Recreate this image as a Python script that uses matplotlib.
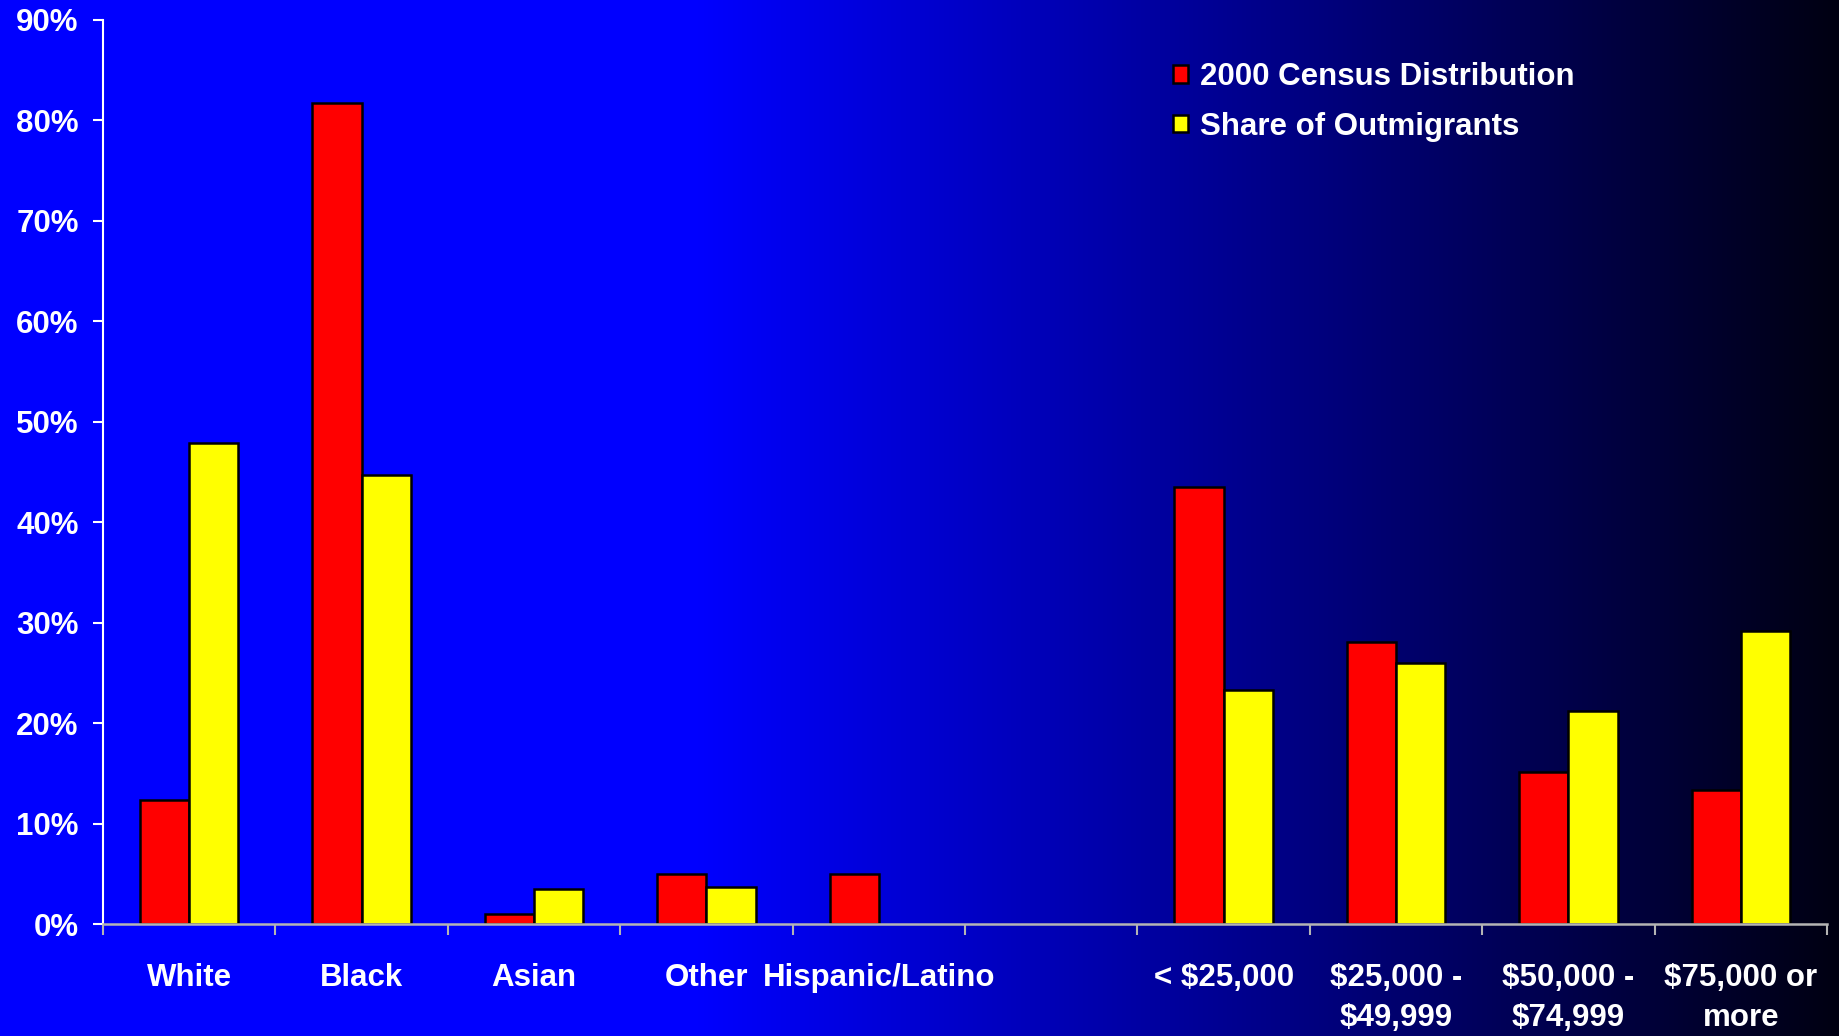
import matplotlib
matplotlib.use("Agg")
import matplotlib.pyplot as plt
from matplotlib.patches import Patch
import numpy as np

plt.rcParams['font.family'] = ['Liberation Sans', 'DejaVu Sans']
plt.rcParams['font.weight'] = 'bold'

categories = ["White", "Black", "Asian", "Other", "Hispanic/Latino", "",
              "< $25,000", "$25,000 -\n$49,999", "$50,000 -\n$74,999", "$75,000 or\nmore"]
census = [12.4, 81.7, 1.05, 5.0, 5.0, None, 43.5, 28.1, 15.1, 13.3]
outmigrants = [47.9, 44.7, 3.5, 3.7, None, None, 23.3, 26.0, 21.2, 29.2]
yticks = [0, 10, 20, 30, 40, 50, 60, 70, 80, 90]

fs = 22.5
fig = plt.figure(figsize=(18.39, 10.36), dpi=100)

# background gradient: bright blue on the left fading to black on the right
bg = fig.add_axes([0, 0, 1, 1], zorder=-10)
xs = np.linspace(0, 1, 800)
blue = np.clip(1.0 - (xs - 0.38) / 0.62 * 0.93, 0, 1)
img = np.zeros((2, len(xs), 3))
img[:, :, 2] = blue
bg.imshow(img, aspect='auto', extent=(0, 1, 0, 1))
bg.set_axis_off()

ax = fig.add_axes([0.056, 0.108, 0.9375, 0.873])
ax.patch.set_alpha(0)

w = 0.285
idx = np.arange(len(categories))
for i in idx:
    if census[i] is not None:
        ax.bar(i - w / 2, census[i], w, color='#ff0000', edgecolor='black', linewidth=1.8, zorder=3)
    if outmigrants[i] is not None:
        ax.bar(i + w / 2, outmigrants[i], w, color='#ffff00', edgecolor='black', linewidth=1.8, zorder=3)

ax.set_xlim(-0.5, len(categories) - 0.5)
ax.set_ylim(0, 90)

ax.set_yticks(yticks)
ax.set_yticklabels([f"{v}%" for v in yticks])
ax.tick_params(axis='y', colors='white', labelsize=fs, length=7.5, width=1.5, pad=10, direction='out')

ax.set_xticks(idx)
ax.set_xticklabels(categories, fontsize=fs, color='white', linespacing=1.45, va='top')
ax.tick_params(axis='x', which='major', length=0, pad=28)
ax.set_xticks(np.arange(-0.5, len(categories)), minor=True)
ax.tick_params(axis='x', which='minor', length=8, width=1.5, color='#b4b4b4', direction='out')

for s in ['top', 'right']:
    ax.spines[s].set_visible(False)
ax.spines['left'].set_color('white')
ax.spines['left'].set_linewidth(1.5)
ax.spines['bottom'].set_color('#b4b4b4')
ax.spines['bottom'].set_linewidth(1.8)
ax.spines['bottom'].set_zorder(4)

handles = [Patch(facecolor='#ff0000', edgecolor='black', linewidth=1.8, label='2000 Census Distribution'),
           Patch(facecolor='#ffff00', edgecolor='black', linewidth=1.8, label='Share of Outmigrants')]
leg = fig.legend(handles=handles, loc='upper left', bbox_to_anchor=(0.638, 0.94),
                 frameon=False, fontsize=fs, handlelength=0.47, handleheight=0.47,
                 handletextpad=0.37, labelspacing=0.63, borderpad=0, borderaxespad=0)
for t in leg.get_texts():
    t.set_color('white')

fig.savefig("out.png", dpi=100)
